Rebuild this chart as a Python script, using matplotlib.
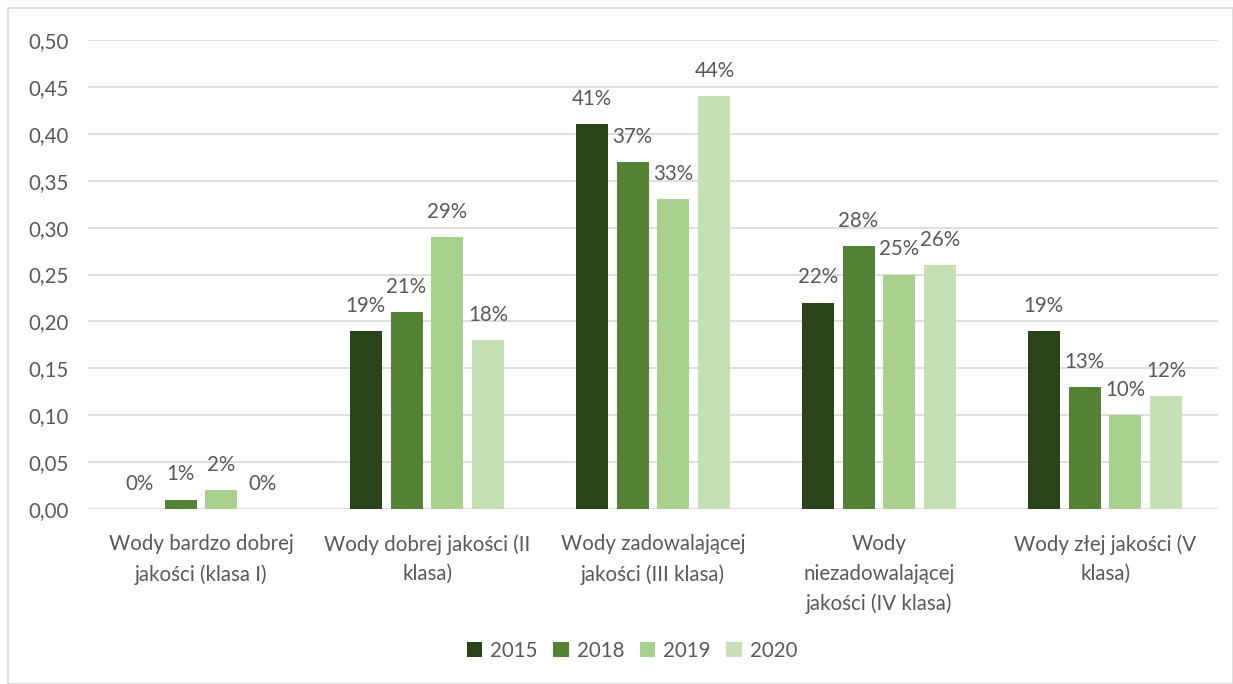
import matplotlib.pyplot as plt
import matplotlib.patches as patches
import numpy as np

# Data
categories = ['Wody bardzo dobrej\njakości (klasa I)',
              'Wody dobrej jakości (II\nklasa)',
              'Wody zadowalającej\njakości (III klasa)',
              'Wody\nniezadowalającej\njakości (IV klasa)',
              'Wody złej jakości (V\nklasa)']
years = ['2015', '2018', '2019', '2020']
v2015 = [0.00, 0.19, 0.41, 0.22, 0.19]
v2018 = [0.01, 0.21, 0.37, 0.28, 0.13]
v2019 = [0.02, 0.29, 0.33, 0.25, 0.10]
v2020 = [0.00, 0.18, 0.44, 0.26, 0.12]
series = [v2015, v2018, v2019, v2020]
colors = ['#2A4319', '#548235', '#A9D18E', '#C5E0B4']
yticks = np.arange(0, 0.501, 0.05)

plt.rcParams['font.family'] = ['Lato', 'DejaVu Sans']
text_color = '#595959'
fs = 14.8

fig = plt.figure(figsize=(12.33, 6.84), dpi=100)
ax = fig.add_axes([88 / 1233, 1 - 509 / 684, (1218 - 88) / 1233, (509 - 40) / 684])

# Outer chart border
fig.patches.append(patches.Rectangle((8 / 1233, 0), 1 - 8 / 1233, 1 - 8 / 684,
                                     transform=fig.transFigure, fill=False,
                                     edgecolor='#D9D9D9', linewidth=1.2))

x = np.arange(len(categories))
step = 0.181
width = 0.142
for i, (vals, col, yr) in enumerate(zip(series, colors, years)):
    pos = x + (i - 1.5) * step
    ax.bar(pos, vals, width=width, color=col, label=yr, zorder=3)
    for p, v in zip(pos, vals):
        ax.annotate(f'{v * 100:.0f}%', (p, v), xytext=(0, 11), textcoords='offset points',
                    ha='center', va='bottom', fontsize=fs, color=text_color)

ax.set_xlim(-0.5, len(categories) - 0.5)
ax.set_ylim(0, 0.5)
ax.set_yticks(yticks)
ax.set_yticklabels([f'{t:.2f}'.replace('.', ',') for t in yticks])
ax.set_xticks(x)
ax.set_xticklabels(categories, linespacing=1.6)
ax.tick_params(axis='y', length=0, pad=14, labelsize=fs, labelcolor=text_color)
ax.tick_params(axis='x', length=0, pad=18, labelsize=fs, labelcolor=text_color)
ax.grid(axis='y', color='#D9D9D9', linewidth=1.2, zorder=0)
for s in ax.spines.values():
    s.set_visible(False)

leg = fig.legend(loc='center', bbox_to_anchor=(632 / 1233, 1 - 651 / 684), ncol=4,
                 frameon=False, fontsize=fs, handlelength=0.75, handleheight=0.75,
                 columnspacing=0.75, handletextpad=0.4)
for t in leg.get_texts():
    t.set_color(text_color)

fig.savefig('out.png', dpi=100)
